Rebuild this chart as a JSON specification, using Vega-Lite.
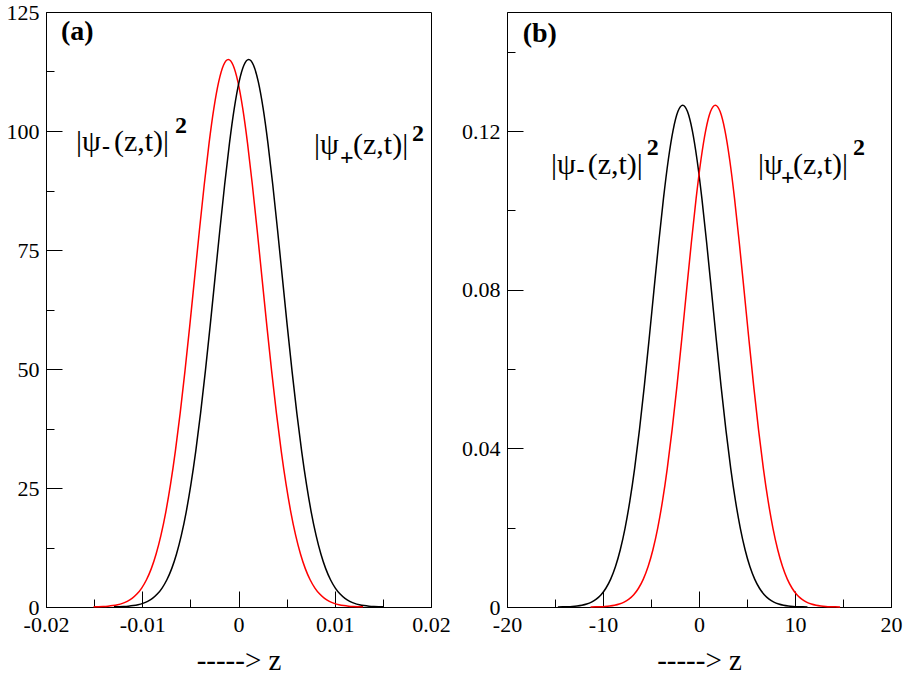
{
  "$schema": "https://vega.github.io/schema/vega-lite/v6.json",
  "padding": {"left": 5, "top": 0, "right": 5, "bottom": 0},
  "background": "white",
  "config": {
    "font": "Liberation Serif, DejaVu Serif, serif",
    "view": {"stroke": "black", "strokeWidth": 1},
    "text": {"font": "Liberation Serif, DejaVu Serif, serif"},
    "axis": {
      "domainColor": "black", "domainWidth": 1,
      "tickColor": "black", "tickWidth": 1,
      "labelColor": "black", "labelFont": "Liberation Serif, DejaVu Serif, serif", "labelFontSize": 22,
      "titleColor": "black", "titleFont": "Liberation Serif, DejaVu Serif, serif", "titleFontSize": 29, "titleFontWeight": "normal",
      "grid": false, "labelOverlap": false, "labelFlush": false, "labelPadding": 23
    }
  },
  "datasets": {
    "a": [
      {"s": "minus", "z": -0.01506, "p": 0.034}, {"s": "minus", "z": -0.01456, "p": 0.059}, {"s": "minus", "z": -0.01406, "p": 0.103},
      {"s": "minus", "z": -0.01356, "p": 0.175}, {"s": "minus", "z": -0.01306, "p": 0.291}, {"s": "minus", "z": -0.01256, "p": 0.474},
      {"s": "minus", "z": -0.01206, "p": 0.756}, {"s": "minus", "z": -0.01156, "p": 1.182}, {"s": "minus", "z": -0.01106, "p": 1.809},
      {"s": "minus", "z": -0.01056, "p": 2.711}, {"s": "minus", "z": -0.01006, "p": 3.981}, {"s": "minus", "z": -0.00956, "p": 5.725},
      {"s": "minus", "z": -0.00906, "p": 8.064}, {"s": "minus", "z": -0.00856, "p": 11.13}, {"s": "minus", "z": -0.00806, "p": 15.04},
      {"s": "minus", "z": -0.00756, "p": 19.89}, {"s": "minus", "z": -0.00706, "p": 25.79}, {"s": "minus", "z": -0.00656, "p": 32.75},
      {"s": "minus", "z": -0.00606, "p": 40.72}, {"s": "minus", "z": -0.00556, "p": 49.6}, {"s": "minus", "z": -0.00506, "p": 59.18},
      {"s": "minus", "z": -0.00456, "p": 69.15}, {"s": "minus", "z": -0.00406, "p": 79.14}, {"s": "minus", "z": -0.00356, "p": 88.71},
      {"s": "minus", "z": -0.00306, "p": 97.4}, {"s": "minus", "z": -0.00256, "p": 104.74}, {"s": "minus", "z": -0.00206, "p": 110.32},
      {"s": "minus", "z": -0.00156, "p": 113.81}, {"s": "minus", "z": -0.00106, "p": 115}, {"s": "minus", "z": -0.00056, "p": 113.81},
      {"s": "minus", "z": -0.00006, "p": 110.32}, {"s": "minus", "z": 0.00044, "p": 104.74}, {"s": "minus", "z": 0.00094, "p": 97.4},
      {"s": "minus", "z": 0.00144, "p": 88.71}, {"s": "minus", "z": 0.00194, "p": 79.14}, {"s": "minus", "z": 0.00244, "p": 69.15},
      {"s": "minus", "z": 0.00294, "p": 59.18}, {"s": "minus", "z": 0.00344, "p": 49.6}, {"s": "minus", "z": 0.00394, "p": 40.72},
      {"s": "minus", "z": 0.00444, "p": 32.75}, {"s": "minus", "z": 0.00494, "p": 25.79}, {"s": "minus", "z": 0.00544, "p": 19.89},
      {"s": "minus", "z": 0.00594, "p": 15.04}, {"s": "minus", "z": 0.00644, "p": 11.13}, {"s": "minus", "z": 0.00694, "p": 8.064},
      {"s": "minus", "z": 0.00744, "p": 5.725}, {"s": "minus", "z": 0.00794, "p": 3.981}, {"s": "minus", "z": 0.00844, "p": 2.711},
      {"s": "minus", "z": 0.00894, "p": 1.809}, {"s": "minus", "z": 0.00944, "p": 1.182}, {"s": "minus", "z": 0.00994, "p": 0.756},
      {"s": "minus", "z": 0.01044, "p": 0.474}, {"s": "minus", "z": 0.01094, "p": 0.291}, {"s": "minus", "z": 0.01144, "p": 0.175},
      {"s": "minus", "z": 0.01194, "p": 0.103}, {"s": "minus", "z": 0.01244, "p": 0.059}, {"s": "minus", "z": 0.01294, "p": 0.034},
      {"s": "plus", "z": -0.01294, "p": 0.034}, {"s": "plus", "z": -0.01244, "p": 0.059}, {"s": "plus", "z": -0.01194, "p": 0.103},
      {"s": "plus", "z": -0.01144, "p": 0.175}, {"s": "plus", "z": -0.01094, "p": 0.291}, {"s": "plus", "z": -0.01044, "p": 0.474},
      {"s": "plus", "z": -0.00994, "p": 0.756}, {"s": "plus", "z": -0.00944, "p": 1.182}, {"s": "plus", "z": -0.00894, "p": 1.809},
      {"s": "plus", "z": -0.00844, "p": 2.711}, {"s": "plus", "z": -0.00794, "p": 3.981}, {"s": "plus", "z": -0.00744, "p": 5.725},
      {"s": "plus", "z": -0.00694, "p": 8.064}, {"s": "plus", "z": -0.00644, "p": 11.13}, {"s": "plus", "z": -0.00594, "p": 15.04},
      {"s": "plus", "z": -0.00544, "p": 19.89}, {"s": "plus", "z": -0.00494, "p": 25.79}, {"s": "plus", "z": -0.00444, "p": 32.75},
      {"s": "plus", "z": -0.00394, "p": 40.72}, {"s": "plus", "z": -0.00344, "p": 49.6}, {"s": "plus", "z": -0.00294, "p": 59.18},
      {"s": "plus", "z": -0.00244, "p": 69.15}, {"s": "plus", "z": -0.00194, "p": 79.14}, {"s": "plus", "z": -0.00144, "p": 88.71},
      {"s": "plus", "z": -0.00094, "p": 97.4}, {"s": "plus", "z": -0.00044, "p": 104.74}, {"s": "plus", "z": 0.00006, "p": 110.32},
      {"s": "plus", "z": 0.00056, "p": 113.81}, {"s": "plus", "z": 0.00106, "p": 115}, {"s": "plus", "z": 0.00156, "p": 113.81},
      {"s": "plus", "z": 0.00206, "p": 110.32}, {"s": "plus", "z": 0.00256, "p": 104.74}, {"s": "plus", "z": 0.00306, "p": 97.4},
      {"s": "plus", "z": 0.00356, "p": 88.71}, {"s": "plus", "z": 0.00406, "p": 79.14}, {"s": "plus", "z": 0.00456, "p": 69.15},
      {"s": "plus", "z": 0.00506, "p": 59.18}, {"s": "plus", "z": 0.00556, "p": 49.6}, {"s": "plus", "z": 0.00606, "p": 40.72},
      {"s": "plus", "z": 0.00656, "p": 32.75}, {"s": "plus", "z": 0.00706, "p": 25.79}, {"s": "plus", "z": 0.00756, "p": 19.89},
      {"s": "plus", "z": 0.00806, "p": 15.04}, {"s": "plus", "z": 0.00856, "p": 11.13}, {"s": "plus", "z": 0.00906, "p": 8.064},
      {"s": "plus", "z": 0.00956, "p": 5.725}, {"s": "plus", "z": 0.01006, "p": 3.981}, {"s": "plus", "z": 0.01056, "p": 2.711},
      {"s": "plus", "z": 0.01106, "p": 1.809}, {"s": "plus", "z": 0.01156, "p": 1.182}, {"s": "plus", "z": 0.01206, "p": 0.756},
      {"s": "plus", "z": 0.01256, "p": 0.474}, {"s": "plus", "z": 0.01306, "p": 0.291}, {"s": "plus", "z": 0.01356, "p": 0.175},
      {"s": "plus", "z": 0.01406, "p": 0.103}, {"s": "plus", "z": 0.01456, "p": 0.059}, {"s": "plus", "z": 0.01506, "p": 0.034}
    ],
    "b": [
      {"s": "minus", "z": -14.7, "p": 0.0000215}, {"s": "minus", "z": -14.2, "p": 0.0000413}, {"s": "minus", "z": -13.7, "p": 0.0000776},
      {"s": "minus", "z": -13.2, "p": 0.000142}, {"s": "minus", "z": -12.7, "p": 0.000253}, {"s": "minus", "z": -12.2, "p": 0.000439},
      {"s": "minus", "z": -11.7, "p": 0.000744}, {"s": "minus", "z": -11.2, "p": 0.001227}, {"s": "minus", "z": -10.7, "p": 0.001975},
      {"s": "minus", "z": -10.2, "p": 0.003093}, {"s": "minus", "z": -9.7, "p": 0.004726}, {"s": "minus", "z": -9.2, "p": 0.007037},
      {"s": "minus", "z": -8.7, "p": 0.01021}, {"s": "minus", "z": -8.2, "p": 0.01444}, {"s": "minus", "z": -7.7, "p": 0.01991},
      {"s": "minus", "z": -7.2, "p": 0.02675}, {"s": "minus", "z": -6.7, "p": 0.03503}, {"s": "minus", "z": -6.2, "p": 0.04471},
      {"s": "minus", "z": -5.7, "p": 0.05561}, {"s": "minus", "z": -5.2, "p": 0.06743}, {"s": "minus", "z": -4.7, "p": 0.07968},
      {"s": "minus", "z": -4.2, "p": 0.09176}, {"s": "minus", "z": -3.7, "p": 0.103}, {"s": "minus", "z": -3.2, "p": 0.11269},
      {"s": "minus", "z": -2.7, "p": 0.12017}, {"s": "minus", "z": -2.2, "p": 0.12489}, {"s": "minus", "z": -1.7, "p": 0.1265},
      {"s": "minus", "z": -1.2, "p": 0.12489}, {"s": "minus", "z": -0.7, "p": 0.12017}, {"s": "minus", "z": -0.2, "p": 0.11269},
      {"s": "minus", "z": 0.3, "p": 0.103}, {"s": "minus", "z": 0.8, "p": 0.09176}, {"s": "minus", "z": 1.3, "p": 0.07968},
      {"s": "minus", "z": 1.8, "p": 0.06743}, {"s": "minus", "z": 2.3, "p": 0.05561}, {"s": "minus", "z": 2.8, "p": 0.04471},
      {"s": "minus", "z": 3.3, "p": 0.03503}, {"s": "minus", "z": 3.8, "p": 0.02675}, {"s": "minus", "z": 4.3, "p": 0.01991},
      {"s": "minus", "z": 4.8, "p": 0.01444}, {"s": "minus", "z": 5.3, "p": 0.01021}, {"s": "minus", "z": 5.8, "p": 0.007037},
      {"s": "minus", "z": 6.3, "p": 0.004726}, {"s": "minus", "z": 6.8, "p": 0.003093}, {"s": "minus", "z": 7.3, "p": 0.001975},
      {"s": "minus", "z": 7.8, "p": 0.001227}, {"s": "minus", "z": 8.3, "p": 0.000744}, {"s": "minus", "z": 8.8, "p": 0.000439},
      {"s": "minus", "z": 9.3, "p": 0.000253}, {"s": "minus", "z": 9.8, "p": 0.000142}, {"s": "minus", "z": 10.3, "p": 0.0000776},
      {"s": "minus", "z": 10.8, "p": 0.0000413}, {"s": "minus", "z": 11.3, "p": 0.0000215},
      {"s": "plus", "z": -11.3, "p": 0.0000215}, {"s": "plus", "z": -10.8, "p": 0.0000413}, {"s": "plus", "z": -10.3, "p": 0.0000776},
      {"s": "plus", "z": -9.8, "p": 0.000142}, {"s": "plus", "z": -9.3, "p": 0.000253}, {"s": "plus", "z": -8.8, "p": 0.000439},
      {"s": "plus", "z": -8.3, "p": 0.000744}, {"s": "plus", "z": -7.8, "p": 0.001227}, {"s": "plus", "z": -7.3, "p": 0.001975},
      {"s": "plus", "z": -6.8, "p": 0.003093}, {"s": "plus", "z": -6.3, "p": 0.004726}, {"s": "plus", "z": -5.8, "p": 0.007037},
      {"s": "plus", "z": -5.3, "p": 0.01021}, {"s": "plus", "z": -4.8, "p": 0.01444}, {"s": "plus", "z": -4.3, "p": 0.01991},
      {"s": "plus", "z": -3.8, "p": 0.02675}, {"s": "plus", "z": -3.3, "p": 0.03503}, {"s": "plus", "z": -2.8, "p": 0.04471},
      {"s": "plus", "z": -2.3, "p": 0.05561}, {"s": "plus", "z": -1.8, "p": 0.06743}, {"s": "plus", "z": -1.3, "p": 0.07968},
      {"s": "plus", "z": -0.8, "p": 0.09176}, {"s": "plus", "z": -0.3, "p": 0.103}, {"s": "plus", "z": 0.2, "p": 0.11269},
      {"s": "plus", "z": 0.7, "p": 0.12017}, {"s": "plus", "z": 1.2, "p": 0.12489}, {"s": "plus", "z": 1.7, "p": 0.1265},
      {"s": "plus", "z": 2.2, "p": 0.12489}, {"s": "plus", "z": 2.7, "p": 0.12017}, {"s": "plus", "z": 3.2, "p": 0.11269},
      {"s": "plus", "z": 3.7, "p": 0.103}, {"s": "plus", "z": 4.2, "p": 0.09176}, {"s": "plus", "z": 4.7, "p": 0.07968},
      {"s": "plus", "z": 5.2, "p": 0.06743}, {"s": "plus", "z": 5.7, "p": 0.05561}, {"s": "plus", "z": 6.2, "p": 0.04471},
      {"s": "plus", "z": 6.7, "p": 0.03503}, {"s": "plus", "z": 7.2, "p": 0.02675}, {"s": "plus", "z": 7.7, "p": 0.01991},
      {"s": "plus", "z": 8.2, "p": 0.01444}, {"s": "plus", "z": 8.7, "p": 0.01021}, {"s": "plus", "z": 9.2, "p": 0.007037},
      {"s": "plus", "z": 9.7, "p": 0.004726}, {"s": "plus", "z": 10.2, "p": 0.003093}, {"s": "plus", "z": 10.7, "p": 0.001975},
      {"s": "plus", "z": 11.2, "p": 0.001227}, {"s": "plus", "z": 11.7, "p": 0.000744}, {"s": "plus", "z": 12.2, "p": 0.000439},
      {"s": "plus", "z": 12.7, "p": 0.000253}, {"s": "plus", "z": 13.2, "p": 0.000142}, {"s": "plus", "z": 13.7, "p": 0.0000776},
      {"s": "plus", "z": 14.2, "p": 0.0000413}, {"s": "plus", "z": 14.7, "p": 0.0000215}
    ]
  },
  "spacing": 76,
  "bounds": "flush",
  "resolve": {"scale": {"color": "independent"}},
  "hconcat": [
    {
      "width": 385,
      "height": 595,
      "encoding": {
        "x": {
          "field": "z", "type": "quantitative",
          "scale": {"domain": [-0.02, 0.02], "nice": false, "zero": false},
          "axis": {
            "title": "-----> z",
            "titlePadding": 3,
            "values": [-0.02, -0.015, -0.01, -0.005, 0, 0.005, 0.01, 0.015, 0.02],
            "format": ".2~f",
            "tickSize": {"condition": {"test": "abs(datum.value * 100 - round(datum.value * 100)) < 0.001", "value": -16}, "value": -8},
            "labelExpr": "abs(datum.value * 100 - round(datum.value * 100)) < 0.001 ? replace(datum.label, '\u2212', '-') : ''"
          }
        },
        "y": {
          "field": "p", "type": "quantitative",
          "scale": {"domain": [0, 125], "nice": false},
          "axis": {
            "title": null,
            "values": [0, 12.5, 25, 37.5, 50, 62.5, 75, 87.5, 100, 112.5, 125],
            "tickSize": {"condition": {"test": "datum.value % 25 === 0", "value": -16}, "value": -8},
            "labelExpr": "datum.value % 25 === 0 ? datum.label : ''"
          }
        }
      },
      "layer": [
        {
          "data": {"name": "a"},
          "mark": {"type": "line", "strokeWidth": 1.5, "interpolate": "monotone"},
          "encoding": {
            "color": {"field": "s", "type": "nominal", "scale": {"domain": ["minus", "plus"], "range": ["#ff0000", "#000000"]}, "legend": null}
          }
        },
        {
          "data": {"values": [
            {"z": -0.01688, "p": 95.8, "t": "|ψ"},
            {"z": -0.01294, "p": 95.8, "t": "(z,t)|"},
            {"z": 0.00784, "p": 95.17, "t": "|ψ"},
            {"z": 0.0119, "p": 95.17, "t": "(z,t)|"}
          ]},
          "mark": {"type": "text", "align": "left", "baseline": "alphabetic", "fontSize": 30, "color": "black"},
          "encoding": {"text": {"field": "t"}}
        },
        {
          "data": {"values": [
            {"z": -0.01418, "p": 95.17, "t": "-"},
            {"z": 0.01054, "p": 92.86, "t": "+"}
          ]},
          "mark": {"type": "text", "align": "left", "baseline": "alphabetic", "fontSize": 24, "fontWeight": "bold", "color": "black"},
          "encoding": {"text": {"field": "t"}}
        },
        {
          "data": {"values": [{"z": -0.0066, "p": 99.6}, {"z": 0.01803, "p": 97.9}]},
          "mark": {"type": "text", "text": "2", "align": "left", "baseline": "alphabetic", "fontSize": 24, "fontWeight": "bold", "color": "black"}
        },
        {
          "data": {"values": [{"z": -0.01844, "p": 119.1}]},
          "mark": {"type": "text", "text": "(a)", "align": "left", "baseline": "alphabetic", "fontSize": 28, "fontWeight": "bold", "color": "black"}
        }
      ]
    },
    {
      "width": 384,
      "height": 595,
      "encoding": {
        "x": {
          "field": "z", "type": "quantitative",
          "scale": {"domain": [-20, 20], "nice": false, "zero": false},
          "axis": {
            "title": "-----> z",
            "titlePadding": 3,
            "values": [-20, -15, -10, -5, 0, 5, 10, 15, 20],
            "tickSize": {"condition": {"test": "datum.value % 10 === 0", "value": -16}, "value": -8},
            "labelExpr": "datum.value % 10 === 0 ? replace(datum.label, '\u2212', '-') : ''"
          }
        },
        "y": {
          "field": "p", "type": "quantitative",
          "scale": {"domain": [0, 0.15], "nice": false},
          "axis": {
            "title": null,
            "values": [0, 0.02, 0.04, 0.06, 0.08, 0.1, 0.12, 0.14],
            "format": ".2~f",
            "tickSize": {"condition": {"test": "round(datum.value * 100) % 4 === 0", "value": -16}, "value": -8},
            "labelExpr": "round(datum.value * 100) % 4 === 0 ? datum.label : ''"
          }
        }
      },
      "layer": [
        {
          "data": {"name": "b"},
          "mark": {"type": "line", "strokeWidth": 1.5, "interpolate": "monotone"},
          "encoding": {
            "color": {"field": "s", "type": "nominal", "scale": {"domain": ["minus", "plus"], "range": ["#000000", "#ff0000"]}, "legend": null}
          }
        },
        {
          "data": {"values": [
            {"z": -15.42, "p": 0.10916, "t": "|ψ"},
            {"z": -11.6, "p": 0.10916, "t": "(z,t)|"},
            {"z": 6.15, "p": 0.10916, "t": "|ψ"},
            {"z": 9.79, "p": 0.10916, "t": "(z,t)|"}
          ]},
          "mark": {"type": "text", "align": "left", "baseline": "alphabetic", "fontSize": 30, "color": "black"},
          "encoding": {"text": {"field": "t"}}
        },
        {
          "data": {"values": [
            {"z": -12.75, "p": 0.1084, "t": "-"},
            {"z": 8.54, "p": 0.1064, "t": "+"}
          ]},
          "mark": {"type": "text", "align": "left", "baseline": "alphabetic", "fontSize": 24, "fontWeight": "bold", "color": "black"},
          "encoding": {"text": {"field": "t"}}
        },
        {
          "data": {"values": [{"z": -5.45, "p": 0.1139}, {"z": 16.04, "p": 0.1139}]},
          "mark": {"type": "text", "text": "2", "align": "left", "baseline": "alphabetic", "fontSize": 24, "fontWeight": "bold", "color": "black"}
        },
        {
          "data": {"values": [{"z": -18.37, "p": 0.1424}]},
          "mark": {"type": "text", "text": "(b)", "align": "left", "baseline": "alphabetic", "fontSize": 28, "fontWeight": "bold", "color": "black"}
        }
      ]
    }
  ]
}
